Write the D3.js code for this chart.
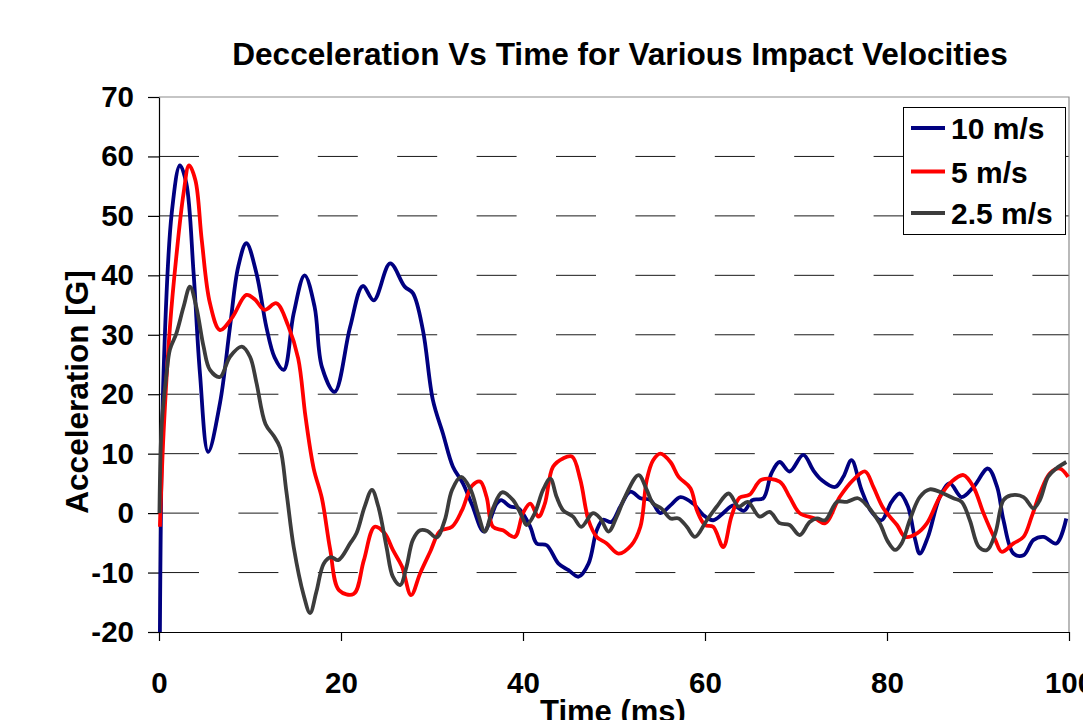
<!DOCTYPE html>
<html lang="en">
<head>
<meta charset="UTF-8">
<title>Decceleration Vs Time</title>
<script src="https://d3js.org/d3.v7.min.js"></script>
<style>
    body { margin: 0; background: #fff; }
    svg { font-family: "Liberation Sans", Arial, sans-serif; font-weight: bold; }
</style>
</head>
<body>
<script>

// series values: [time ms, acceleration G]
const vel10 = [
    [0.1, -20], [0.5, 23.5], [1.4, 50.5], [2.3, 58.5], [3.0, 55.5], [3.8, 40.4], [4.5, 23.5], [5.4, 10.3],
    [6.7, 18.5], [7.8, 31.3], [8.7, 41.4], [9.6, 45.4], [10.7, 40.4], [11.8, 31.3], [12.7, 26.2], [13.7, 24.1],
    [14.8, 33.6], [16.0, 40.0], [17.1, 34.7], [17.9, 24.6], [19.3, 20.4], [21.0, 31.3], [22.4, 38.2], [23.6, 35.8],
    [25.4, 42.0], [27.0, 38.1], [27.9, 37], [29.0, 30.8], [30.1, 19.0], [31.2, 13.4], [32.3, 7.8], [33.4, 5.0],
    [34.4, 1.4], [35.7, -3.1], [37.1, 1.6], [37.6, 2.2], [38.6, 1.1], [39.5, 0.8], [40.8, -2.3], [41.5, -5.1],
    [42.6, -5.4], [43.9, -8.5], [45.0, -9.6], [46.1, -10.7], [47.2, -8.5], [48.1, -2.9], [48.8, -1.1], [49.7, -1.5],
    [50.7, 1.1], [51.8, 3.6], [52.9, 2.5], [54.0, 2.2], [55.1, 0], [56.2, 1.3], [57.3, 2.7], [58.7, 1.6],
    [59.8, -0.3], [60.9, -1.2], [62.0, 0], [63.1, 1.3], [64.3, 0.4], [65.2, 2.2], [66.4, 2.5], [67.3, 6.7],
    [68.2, 8.6], [69.3, 7.0], [70.8, 9.8], [71.9, 7.2], [72.8, 5.6], [74.3, 4.4], [75.2, 6.1], [76.1, 8.9],
    [77.2, 3.9], [78.3, 0.2], [79.4, -1.2], [80.5, 1.9], [81.4, 3.3], [82.3, 1.1], [83.1, -4.5], [83.6, -6.8],
    [84.5, -4.0], [85.8, 2.7], [86.9, 5.0], [88.2, 2.7], [89.5, 4.4], [91.1, 7.5], [92.1, 4.4], [92.8, -1.2],
    [93.9, -6.8], [95.0, -7.1], [96.1, -4.5], [97.2, -4.0], [98.6, -5.1], [99.7, -0.9]
];

const vel5 = [
    [0.1, -2.3], [0.5, 13.4], [1.2, 31.3], [1.9, 43.1], [2.7, 53.8], [3.3, 58.5], [4.0, 56], [4.7, 45.9],
    [5.6, 35.3], [6.7, 30.8], [8.0, 32.8], [9.6, 36.7], [10.5, 36.0], [11.6, 34.2], [12.9, 35.3], [14.2, 31.5],
    [15.3, 26], [16.1, 16.2], [17.0, 7.5], [17.9, 2.5], [18.8, -6], [19.8, -13], [21.4, -13.6], [22.5, -8],
    [23.7, -2.3], [24.8, -3.4], [25.7, -6.2], [26.7, -9.0], [27.7, -13.8], [28.7, -10.1], [29.8, -6.5], [30.9, -3.0],
    [32.2, -2.3], [33.3, 0.5], [34.4, 4.6], [35.3, 5.3], [36.0, 2.7], [36.7, -2.3], [37.8, -2.9], [39.1, -4.0],
    [40.0, 0], [40.8, 1.6], [41.7, -0.6], [42.4, 1.6], [43.3, 7.8], [44.4, 9.2], [45.4, 9.5], [46.3, 5.6],
    [47.2, -1.2], [48.1, -4.0], [49.2, -5.1], [50.5, -6.8], [51.9, -5.4], [52.9, -2.3], [53.6, 5.6], [54.3, 8.9],
    [55.1, 10.0], [56.2, 8.6], [57.1, 6.1], [58.4, 4.2], [59.1, 0.5], [60.0, -2.0], [60.9, -2.3], [62.0, -5.7],
    [62.9, -0.6], [63.8, 2.6], [64.9, 3.1], [66.2, 5.6], [68.2, 5.3], [69.3, 2.7], [70.4, 0], [72.1, -0.9],
    [73.2, -1.7], [74.8, 2.7], [76.3, 5.6], [77.6, 7.0], [78.5, 4.4], [79.6, 0.8], [81.1, -2.0], [82.0, -4.0],
    [83.3, -3.4], [84.4, -1.7], [85.8, 2.7], [87.1, 5.3], [88.4, 6.4], [89.5, 4.4], [90.6, 0], [91.9, -4.5],
    [92.6, -6.5], [93.9, -5.1], [95.0, -4.0], [95.9, -0.6], [96.8, 3.3], [97.9, 6.7], [99.0, 7.5], [99.9, 6.1]
];

const vel25 = [
    [0.05, 0], [0.3, 15], [0.8, 23], [1.2, 27.5], [1.9, 30.2], [2.7, 34.7], [3.4, 38.1], [4.1, 34.7],
    [4.9, 28], [5.6, 24.1], [6.7, 22.9], [7.8, 26.3], [9.1, 28], [10.0, 26.3], [10.7, 22], [11.7, 15],
    [12.6, 13], [13.3, 11], [14.0, 3.6], [14.8, -5.7], [15.9, -13.8], [16.6, -16.8], [17.3, -13.2], [18.1, -8.5],
    [18.9, -7.4], [19.7, -7.9], [21.0, -5.1], [21.7, -3.4], [22.6, 1.1], [23.4, 3.9], [24.1, 1.1], [25.0, -5.7],
    [25.7, -10.7], [26.5, -12.1], [27.2, -9.0], [27.9, -4.5], [28.7, -2.9], [29.5, -3.0], [30.5, -4.1], [31.4, -1.2],
    [32.2, 3.9], [33.2, 6.1], [34.2, 4.1], [35.1, -0.3], [35.8, -3.1], [36.7, 0.8], [37.7, 3.5], [38.9, 2.2],
    [39.9, -0.6], [40.4, -2.0], [41.3, 0], [42.2, 3.9], [43.0, 5.8], [43.7, 2.7], [44.4, 0.5], [45.5, -0.6],
    [46.4, -2.3], [47.7, 0], [48.5, -0.9], [49.4, -3.1], [50.3, -0.6], [51.2, 2.7], [52.7, 6.4], [53.6, 3.9],
    [54.3, 1.6], [55.2, 0.8], [56.2, -0.9], [57.1, -0.9], [58.0, -2.3], [58.9, -4.0], [60.2, -1.2], [61.3, 1.1],
    [62.6, 3.3], [63.7, 1.1], [64.7, 1.9], [66.0, -0.6], [67.1, 0.2], [68.2, -1.7], [69.3, -2.0], [70.4, -3.7],
    [71.5, -1.5], [72.3, -0.9], [73.2, -1.2], [74.5, 1.9], [75.6, 1.9], [76.8, 2.5], [77.9, 1.1], [79.2, -1.7],
    [80.1, -4.8], [80.9, -6.2], [81.6, -5.1], [82.5, -1.2], [83.6, 2.7], [84.7, 4.0], [86.2, 3.3], [87.3, 2.5],
    [88.2, 1.9], [89.1, -1.2], [90.1, -5.7], [91.0, -6.2], [91.9, -3.4], [92.8, 2.2], [93.6, 3.0], [95.0, 2.7],
    [96.1, 0.8], [96.8, 2.2], [97.7, 6.1], [98.6, 7.5], [99.7, 8.6]
];

const seriesNames = ['10 m/s', '5 m/s', '2.5 m/s'];
const seriesColors = ['#000080', '#ff0000', '#3c3c3c'];
const xTicks = [0, 20, 40, 60, 80, 100];
const yTicks = [-20, -10, 0, 10, 20, 30, 40, 50, 60, 70];
const gridValues = [-10, 0, 10, 20, 30, 40, 50, 60];

const W = 1083, H = 720;
const plotL = 159, plotR = 1069, plotT = 97, plotB = 632;

const svg = d3.select('body').append('svg')
    .attr('width', W)
    .attr('height', H);

svg.append('rect').attr('width', W).attr('height', H).attr('fill', '#fff');

const x = d3.scaleLinear().domain([0, 100]).range([plotL, plotR]);
const y = d3.scaleLinear().domain([-20, 70]).range([plotB, plotT]);

// dashed gridlines
svg.append('g')
    .selectAll('line')
    .data(gridValues)
    .join('line')
    .attr('x1', plotL).attr('x2', plotR)
    .attr('y1', d => y(d)).attr('y2', d => y(d))
    .attr('stroke', '#1a1a1a')
    .attr('stroke-width', 1)
    .attr('stroke-dasharray', '40,39.4');

// grey plot border on top / right
svg.append('path')
    .attr('d', `M${plotL},${y(70)}H${plotR}V${plotB}`)
    .attr('fill', 'none')
    .attr('stroke', '#8c8c8c')
    .attr('stroke-width', 1.2);

// axes (plain hyphen for negatives, like the original)
const plain = d => String(d);
const yAxis = svg.append('g')
    .attr('transform', `translate(${plotL},0)`)
    .call(d3.axisLeft(y).tickValues(yTicks).tickFormat(plain).tickSizeInner(11).tickSizeOuter(0).tickPadding(14));
const xAxis = svg.append('g')
    .attr('transform', `translate(0,${plotB})`)
    .call(d3.axisBottom(x).tickValues(xTicks).tickFormat(plain).tickSizeInner(9).tickSizeOuter(0).tickPadding(31));

[yAxis, xAxis].forEach(g => {
    g.select('.domain').attr('stroke', '#000').attr('stroke-width', 1.2);
    g.selectAll('.tick line').attr('stroke', '#000').attr('stroke-width', 1.2);
    g.selectAll('.tick text')
        .attr('fill', '#000')
        .style('font-size', '29.5px')
        .style('font-family', '"Liberation Sans", Arial, sans-serif')
        .style('font-weight', 'bold');
});

// lines
const line = d3.line()
    .x(d => x(d[0]))
    .y(d => y(d[1]))
    .curve(d3.curveCatmullRom.alpha(0.5));

const allSeries = [vel10, vel5, vel25];
svg.append('g')
    .selectAll('path')
    .data(allSeries)
    .join('path')
    .attr('d', line)
    .attr('fill', 'none')
    .attr('stroke', (d, i) => seriesColors[i])
    .attr('stroke-width', 3.8)
    .attr('stroke-linejoin', 'round');

// title
svg.append('text')
    .attr('x', 620)
    .attr('y', 65)
    .attr('text-anchor', 'middle')
    .style('font-size', '31.6px')
    .text('Decceleration Vs Time for Various Impact Velocities');

// axis titles
svg.append('text')
    .attr('transform', 'translate(88,392) rotate(-90)')
    .attr('text-anchor', 'middle')
    .style('font-size', '31.5px')
    .text('Acceleration [G]');

svg.append('text')
    .attr('x', 613)
    .attr('y', 722)
    .attr('text-anchor', 'middle')
    .style('font-size', '31px')
    .text('Time (ms)');

// legend
const legend = svg.append('g');
legend.append('rect')
    .attr('x', 903.5).attr('y', 107.5)
    .attr('width', 162).attr('height', 127)
    .attr('fill', '#fff')
    .attr('stroke', '#000')
    .attr('stroke-width', 1);

const legendY = [128, 171.5, 213];
const entries = legend.selectAll('g.entry')
    .data(seriesNames)
    .join('g')
    .attr('class', 'entry')
    .attr('transform', (d, i) => `translate(0,${legendY[i]})`);
entries.append('line')
    .attr('x1', 911).attr('x2', 945)
    .attr('stroke', (d, i) => seriesColors[i])
    .attr('stroke-width', 4);
entries.append('text')
    .attr('x', 951)
    .attr('y', 11)
    .style('font-size', '30px')
    .text(d => d);

</script>
</body>
</html>
